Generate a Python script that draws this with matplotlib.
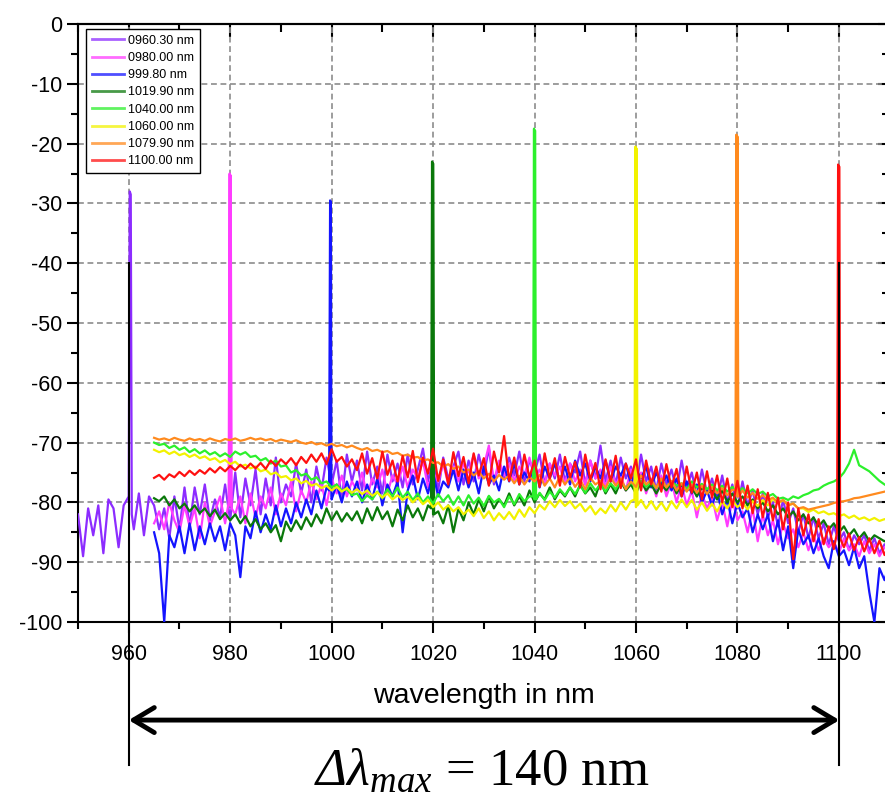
import numpy as np
import matplotlib
matplotlib.use("Agg")
import matplotlib.pyplot as plt

plt.rcParams['font.family'] = ['Liberation Sans', 'DejaVu Sans']
plt.rcParams['axes.unicode_minus'] = False
plt.rcParams['mathtext.fontset'] = 'custom'
plt.rcParams['mathtext.rm'] = 'Liberation Serif'
plt.rcParams['mathtext.it'] = 'Liberation Serif:italic'
plt.rcParams['mathtext.sf'] = 'Liberation Serif:italic'
plt.rcParams['mathtext.bf'] = 'Liberation Serif:bold'

# ---------------- data ----------------
labels = ["0960.30 nm", "0980.00 nm", "999.80 nm", "1019.90 nm",
          "1040.00 nm", "1060.00 nm", "1079.90 nm", "1100.00 nm"]
colors = ["#8c2cff", "#ff3cff", "#1414ff", "#0a780a",
          "#2cf02c", "#f2f200", "#ff8a1e", "#ff1010"]

# common wavelength grid of the noise floor (nm)
wl_grid = np.arange(965, 1111, 1)

# extra left part of the 960.30 nm trace (nm / dBm)
violet_left_wl = [950, 951, 952, 953, 954, 955, 956, 957, 958, 959, 961, 962, 963, 964]
violet_left_db = [-82, -89, -81, -85.5, -80.5, -88.5, -79.5, -81, -87.5, -80.5, -84.5, -78.5, -85.5, -79]

violet_db = [
    -80.5, -84.5, -81, -86, -79, -84.5, -77.5, -84, -77.5, -82,
    -77, -83, -79.5, -82.5, -77, -83, -75, -82.5, -76, -80.5,
    -74.5, -82, -76, -80.5, -72.5, -80, -77, -79, -73.5, -78.5,
    -74.5, -80, -74, -78, -72.5, -77, -73, -79.5, -72, -76.5,
    -73, -78, -71.5, -77, -74, -78.5, -72, -76.5, -73.5, -77.5,
    -72, -77, -74.5, -71, -76.5, -73, -78, -72.5, -76, -74,
    -71.5, -77, -73, -76.5, -72, -75.5, -71, -77, -73.5, -76,
    -72.5, -75.5, -71.5, -76.5, -73, -75, -72, -77, -73.5, -76,
    -72, -76.5, -73.5, -75, -71.5, -77, -73, -76, -70.5, -76.5,
    -73, -77, -72.5, -76, -74, -77.5, -72, -76.5, -74, -78,
    -73.5, -77, -74.5, -78, -73, -77.5, -75, -79, -74.5, -78.5,
    -76, -79.5, -75.5, -80, -77, -81, -76.5, -80.5, -78, -82,
    -78.5, -82.5, -80, -84, -79.5, -83.5, -81, -85, -82, -86,
    -82.5, -86, -83.5, -87, -84, -86.5, -85, -88, -85.5, -87,
    -85.5, -88, -86, -88.5, -87, -88]

magenta_db = [
    -83.5, -81.5, -84.5, -80, -83, -85, -80.5, -84, -81, -86,
    -80, -84, -81.5, -79, -83.5, -80.5, -82, -79, -83.5, -78.5,
    -82.5, -79, -81, -77.5, -82, -78.5, -80.5, -76.5, -81.5, -78,
    -80, -76.5, -79.5, -77, -80.5, -76, -78.5, -75.5, -79, -76.5,
    -78, -75, -79, -76, -77.5, -74.5, -78.5, -75.5, -77, -74,
    -77.5, -74.5, -76, -73, -77.5, -75, -76.5, -73.5, -77, -74,
    -76.5, -73.5, -75, -72, -76, -74, -70.5, -76.5, -73, -75.5,
    -73.5, -76.5, -74, -75.5, -72.5, -76, -74.5, -77, -73.5, -75.5,
    -74, -77, -73.5, -76.5, -74.5, -77, -73, -76, -74.5, -77.5,
    -74, -77, -75.5, -78, -74.5, -77.5, -75, -78.5, -76, -79,
    -75.5, -79, -76.5, -80, -77, -80.5, -78, -82.5, -78.5, -81,
    -79, -83, -80, -84, -79.5, -83, -81.5, -85, -81, -86.5,
    -82, -85.5, -83, -87, -83.5, -86, -84.5, -87.5, -85, -88,
    -85.5, -88, -86, -87.5, -86.5, -88.5, -86, -88, -87, -89,
    -86.5, -88.5, -87, -89, -87.5, -88]

blue_db = [
    -85, -88.5, -100, -85.5, -87.5, -84, -88.5, -83.5, -88, -84,
    -87, -83.5, -86.5, -84, -88, -83.5, -85.5, -92.5, -84, -86,
    -81.5, -85, -82, -84.5, -80.5, -84, -81, -83.5, -80, -82.5,
    -79.5, -82, -78, -81, -77.5, -79.5, -77, -80, -76.5, -79,
    -76.5, -80, -77, -79.5, -76, -80.5, -77, -79, -76.5, -85,
    -78, -75.5, -79.5, -76, -78.5, -75, -79, -76.5, -77.5, -74.5,
    -78, -74.5, -77.5, -75, -78.5, -74, -77, -75.5, -78, -74,
    -76.5, -73.5, -77, -75, -76.5, -73, -77.5, -74, -76, -73.5,
    -76.5, -74, -77, -73, -75.5, -73.5, -76.5, -74, -76, -73,
    -76.5, -74, -75.5, -73.5, -77, -74.5, -76, -74, -77.5, -75,
    -77, -75.5, -78, -76, -79, -76.5, -78.5, -77, -80, -78,
    -80.5, -78, -82, -79.5, -83.5, -80, -82.5, -81, -85, -82,
    -84.5, -82, -86.5, -83, -88, -84, -91, -84.5, -87, -85.5,
    -88.5, -86, -89, -91, -86.5, -89, -88, -90.5, -87.5, -91,
    -89, -95, -100, -91, -93, -90]

dkgreen_db = [
    -79.3, -79.8, -79, -80.5, -79.5, -81, -80.2, -81.5, -80.5, -81.8,
    -81, -82.3, -81.2, -82.8, -81.8, -83, -82, -83.5, -82.3, -84,
    -82.8, -84.5, -83.5, -85, -83.8, -86.5, -83.2, -84.8, -83, -84.5,
    -82.5, -84, -82, -83.5, -81, -83, -81.5, -83.2, -81.8, -83,
    -81.5, -83.5, -81, -83, -80.8, -82.8, -81.5, -84, -81.2, -83,
    -80.5, -82.5, -81, -83, -80.5, -82, -81.5, -83.5, -80.5, -85,
    -81, -83, -80, -82, -79.5, -81.5, -79, -81, -79.5, -80.5,
    -78.5, -80.5, -79, -80.5, -78, -80, -78.5, -79.5, -77.5, -79.5,
    -78, -79, -77.5, -79, -77, -78.5, -77.5, -79, -76.5, -78.5,
    -77, -78.5, -76.5, -78, -77, -78.5, -76.5, -78, -77, -78.5,
    -77, -78, -76.5, -78.5, -77, -78, -77.5, -79, -77.5, -78.5,
    -78, -79.5, -78, -80, -78.5, -80, -79, -80.5, -79.5, -81,
    -80, -81.5, -80.5, -82, -81, -82.5, -81.5, -83, -82, -83.5,
    -82.5, -84, -83, -84.5, -83.5, -85, -84, -85.5, -84.5, -86,
    -85, -86.5, -85.5, -86, -86.5, -86]

green_db = [
    -70, -70.4, -70.2, -70.9, -70.5, -71.2, -70.8, -71.6, -71.1, -71.8,
    -71.3, -72, -71.6, -72.3, -71.8, -72.4, -71.5, -72, -71.6, -72.4,
    -72.2, -73, -72.6, -73.5, -73, -74, -73.8, -75, -74.6, -75.5,
    -75.2, -76.2, -75.8, -76.8, -76.5, -77.5, -77, -78, -77.8, -78.8,
    -78.5, -79.8, -78.8, -79.5, -78.2, -79.3, -77.8, -79, -77.5, -79.2,
    -78.2, -79.6, -78.5, -80, -79, -80.2, -78.6, -79.8, -78.8, -80.4,
    -79, -80.5, -78.8, -80.2, -79.2, -80.6, -78.9, -80, -79.4, -80.8,
    -79, -80.3, -78.6, -79.8, -79, -79.5, -78.4, -79.6, -78.2, -79.2,
    -77.8, -78.8, -77.5, -78.6, -77.2, -78.4, -76.8, -78, -77, -78.2,
    -76.8, -77.8, -76.5, -77.6, -76.6, -77.8, -76.4, -77.4, -76.6, -77.6,
    -76.2, -77.4, -76.5, -77.2, -76.8, -77.8, -76.5, -77.5, -76.9, -77.8,
    -77, -78, -77.2, -78.2, -77.4, -78.4, -77.6, -78.5, -77.8, -78.6,
    -78.2, -79, -78.6, -79.4, -79.2, -79.6, -79, -79.3, -78.8, -78.5,
    -78, -77.8, -77.2, -76.8, -76.5, -76, -75, -73.5, -71.2, -73.8,
    -74.3, -74.8, -75.6, -76.4, -77, -77.5]

yellow_db = [
    -71.2, -71.6, -71.3, -71.9, -71.5, -72.1, -71.8, -72.4, -72, -72.6,
    -72.3, -72.9, -72.6, -73.3, -72.9, -73.6, -73.2, -74, -73.7, -74.3,
    -74, -74.8, -74.5, -75.3, -75, -75.8, -75.6, -76.3, -76, -76.8,
    -76.4, -77.2, -76.9, -77.6, -77.2, -78, -77.4, -78.2, -77.6, -78.4,
    -77.8, -78.6, -78, -78.9, -78.3, -79.2, -78.5, -79.5, -78.8, -79.6,
    -79, -80, -79.2, -80.3, -79.6, -80.8, -80, -81.2, -80.5, -81.5,
    -80.8, -82, -81.2, -82.3, -81, -82.6, -81.5, -83, -81.8, -82.8,
    -81.6, -82.8, -81.2, -82.4, -80.8, -81.8, -80.4, -81.2, -79.8, -80.8,
    -79.6, -80.6, -79.8, -81, -80.2, -81.5, -80.6, -82, -81, -81.8,
    -80.4, -81.5, -80, -81.2, -79.8, -80.8, -79.6, -81, -79.8, -81.2,
    -80, -81.4, -79.8, -81, -79.5, -80.8, -79.6, -81.2, -80, -81.4,
    -80.2, -81.5, -79.8, -81, -79.6, -80.8, -80, -81.2, -79.8, -80.6,
    -79.6, -80.5, -79.4, -80.2, -79.6, -80.4, -80.2, -81, -81, -81.6,
    -81.2, -81.8, -81.5, -82, -81.8, -82.3, -82, -82.6, -82.2, -82.8,
    -82.5, -83, -82.6, -83.1, -82.8, -83]

orange_db = [
    -69.2, -69.5, -69.3, -69.6, -69.2, -69.5, -69.7, -69.3, -69.6, -69.4,
    -69.7, -69.3, -69.6, -69.8, -69.4, -69.6, -69.3, -69.7, -69.5, -69.2,
    -69.5, -69.3, -69.6, -69.4, -69.8, -69.5, -69.7, -69.9, -69.6, -70,
    -70.2, -69.9, -70.3, -70.1, -70.5, -70.2, -70.6, -70.4, -70.8, -70.5,
    -70.9, -71.2, -70.9, -71.4, -71.2, -71.6, -71.4, -71.9, -71.7, -72.2,
    -72, -72.5, -72.4, -73, -72.8, -73.4, -73.3, -74, -73.6, -74.4,
    -74, -75, -74.5, -75.5, -74.8, -76, -75.2, -76.5, -75.4, -76.2,
    -75.5, -76.8, -75.6, -77, -75.8, -76.5, -75.4, -77.2, -76, -77.5,
    -75.6, -77, -75.8, -77.4, -76.2, -77.8, -75.9, -77, -76.4, -77.6,
    -75.8, -77.2, -76, -77.8, -76.5, -77.4, -75.5, -77, -76.2, -77.6,
    -76, -77.5, -76.4, -78, -76.8, -78.2, -77, -78.4, -77.2, -78.6,
    -77.4, -78.5, -77.6, -78.8, -77.9, -79, -78, -79.2, -78.4, -79.4,
    -78.8, -79.6, -79.2, -80, -79.6, -80.5, -80.2, -81, -80.8, -81.2,
    -81, -80.8, -80.6, -80.4, -80.1, -79.9, -79.8, -79.6, -79.3, -79.2,
    -79, -78.8, -78.6, -78.4, -78.2, -78]

red_db = [
    -75.9, -75.4, -76.2, -75.3, -75.8, -74.9, -75.6, -74.7, -75.4, -74.6,
    -75.2, -74.3, -75, -74.1, -74.8, -73.9, -74.6, -73.7, -74.4, -73.5,
    -74.3, -73.4, -74.4, -73, -73.9, -72.8, -73.6, -72.6, -73.8, -72.4,
    -73.4, -72, -73.2, -71.8, -73.6, -71.1, -73.2, -72.4, -74, -72.8,
    -74.6, -71.8, -75.2, -72.6, -76, -71.5, -75.4, -73, -76.5, -72.2,
    -75.8, -71.4, -76.6, -72.5, -75.2, -71, -76.4, -72.8, -77, -71.6,
    -75.6, -72.4, -76.8, -71.8, -75.5, -72.6, -77.2, -71.5, -75, -68.9,
    -76.4, -72.5, -77, -72, -75.8, -73, -77.4, -71.8, -76, -72.6,
    -77.2, -72.4, -75.8, -73.2, -77.5, -72, -76.2, -73.4, -77.8, -72.8,
    -76.5, -72.2, -77.6, -73.5, -76, -72.8, -78, -73, -77, -74,
    -78.2, -73.6, -77.5, -74.4, -79, -74, -78.4, -75, -79.5, -74.8,
    -79.2, -75.5, -80, -76, -80.8, -76.4, -81, -77.2, -81.8, -77.8,
    -82.5, -78.4, -83, -79.2, -84.5, -80, -89.5, -81, -85.5, -82,
    -86.5, -82.8, -87, -84, -87.8, -85, -87.5, -85.2, -88, -85.8,
    -88.2, -86, -88.5, -86.4, -88.8, -86.8]

# laser lines: wavelengths and levels of each narrow peak (flat-topped)
peak_wl = [[960.0, 960.2, 960.4, 960.6], [979.7, 979.9, 980.1, 980.3],
           [999.5, 999.7, 999.85, 999.95], [1019.6, 1019.8, 1020.0, 1020.2],
           [1039.7, 1039.9, 1040.1, 1040.3], [1059.7, 1059.9, 1060.1, 1060.3],
           [1079.6, 1079.8, 1080.0, 1080.2], [1099.65, 1099.85, 1100.05, 1100.25]]
peak_db = [[-79, -28, -28.5, -82], [-80, -25, -25.3, -81], [-78, -29.5, -29.8, -79],
           [-81, -23, -23.3, -82], [-79, -17.5, -17.8, -79.5], [-79.5, -20.5, -20.8, -80.5],
           [-78, -18.5, -18.8, -79], [-85, -23.5, -23.8, -86]]

floor_db = [violet_db, magenta_db, blue_db, dkgreen_db,
            green_db, yellow_db, orange_db, red_db]

# range markers
range_lo, range_hi = 960.0, 1100.1
marker_top = -40
span_text = r"$\mathsf{\Delta}\mathit{\lambda}_{\mathit{max}}$ = 140 nm"

# ---------------- figure ----------------
W, H = 885, 795
fig = plt.figure(figsize=(W / 100, H / 100), dpi=100)
ax = fig.add_axes([78 / W, 0.2176, (889.6 - 78) / W, 0.7522])

for i in range(8):
    xs = list(wl_grid) + list(peak_wl[i])
    ys = list(floor_db[i]) + list(peak_db[i])
    if i == 0:
        xs = violet_left_wl + xs
        ys = violet_left_db + ys
    xs = np.array(xs, dtype=float)
    ys = np.array(ys, dtype=float)
    o = np.argsort(xs, kind="stable")
    ax.plot(xs[o], ys[o], color=colors[i], lw=1.6, label=labels[i], zorder=3 + i * 0.01)

# black range markers extending below the axes
for xm in (range_lo, range_hi):
    ax.plot([xm, xm], [marker_top, -123.9], color="black", lw=1.5,
            clip_on=False, zorder=5)

ax.annotate("", xy=(range_hi, -116.4), xytext=(range_lo, -116.4),
            xycoords="data", textcoords="data", annotation_clip=False,
            arrowprops=dict(arrowstyle="<->,head_length=0.75,head_width=0.45",
                            mutation_scale=20, lw=3.5, color="black",
                            shrinkA=0, shrinkB=0))

ax.text(1030.0, -112.3, "wavelength in nm", ha="center", va="center",
        fontsize=20.5, clip_on=False)
ax.text(1029.6, -127.2, span_text, ha="center", va="baseline",
        fontsize=38, family=["Liberation Serif", "DejaVu Serif"], clip_on=False)

ax.set_xlim(950, 1110)
ax.set_ylim(-100, 0)
ax.set_xticks(np.arange(960, 1101, 20))
ax.set_xticks(np.arange(950, 1111, 10), minor=True)
ax.set_yticks(np.arange(-100, 1, 10))
ax.set_yticks(np.arange(-100, 1, 5), minor=True)

ax.tick_params(axis="both", which="major", length=8, width=1.5, labelsize=15.5,
               direction="out", top=False, right=False)
ax.tick_params(axis="both", which="minor", length=5, width=1.5,
               direction="out", top=False, right=False)
ax.tick_params(axis="x", pad=8)
ax.tick_params(axis="y", pad=3)

# inward ticks on top and right
axt = ax.secondary_xaxis("top")
axt.set_xticks(np.arange(960, 1101, 20))
axt.set_xticks(np.arange(950, 1111, 10), minor=True)
axt.tick_params(which="major", direction="in", length=9, width=1.5, labeltop=False)
axt.tick_params(which="minor", direction="in", length=5.5, width=1.5)
axr = ax.secondary_yaxis("right")
axr.set_yticks(np.arange(-100, 1, 10))
axr.set_yticks(np.arange(-100, 1, 5), minor=True)
axr.tick_params(which="major", direction="in", length=9, width=1.5, labelright=False)
axr.tick_params(which="minor", direction="in", length=5.5, width=1.5)
for a in (axt, axr):
    for s in a.spines.values():
        s.set_linewidth(1.5)

for s in ax.spines.values():
    s.set_linewidth(1.5)

ax.grid(True, which="major", color="#8c8c8c", lw=1.2, linestyle=(0, (3.5, 2.2)))
ax.set_axisbelow(True)

leg = ax.legend(loc="upper left", bbox_to_anchor=(86 / W, 1 - 29 / H),
                bbox_transform=fig.transFigure, borderaxespad=0,
                fontsize=9, frameon=True, fancybox=False, framealpha=1,
                edgecolor="black", handlelength=2.6, handletextpad=0.35,
                labelspacing=0.42, borderpad=0.45)
leg.get_frame().set_linewidth(1.0)
for ln in leg.get_lines():
    ln.set_linewidth(2.0)
    ln.set_alpha(0.75)

fig.savefig("out.png", dpi=100)
